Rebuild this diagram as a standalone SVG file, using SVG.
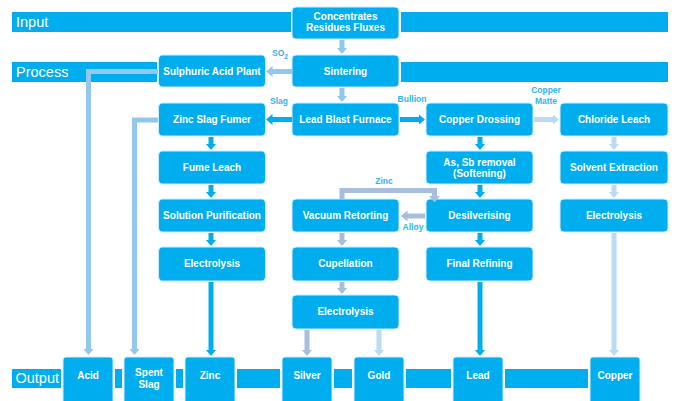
<svg xmlns="http://www.w3.org/2000/svg" width="676" height="401" viewBox="0 0 676 401">
<defs>
<style>
.band{fill:#00AEEF}
.bl{font-family:"Liberation Sans",Arial,sans-serif;font-size:14.5px;fill:#fff}
.node rect{fill:#00AEEF;stroke:#CDEFFC;stroke-width:1}
.node text{font-family:"Liberation Sans",Arial,sans-serif;font-size:10px;font-weight:bold;fill:#fff;text-anchor:middle}
.lbl{font-family:"Liberation Sans",Arial,sans-serif;font-size:8.5px;font-weight:bold;fill:#2FB4EE;text-anchor:middle}
.c{fill:none;stroke-width:5;stroke-linejoin:miter}
.dark{stroke:#00AEEF;marker-end:url(#ah-dark)}
.light{stroke:#92C8EE;marker-end:url(#ah-light)}
.pale{stroke:#B9DBF5;marker-end:url(#ah-pale)}
.grey{stroke:#A7BEDC;marker-end:url(#ah-grey)}
</style>
<marker id="ah-dark" markerUnits="userSpaceOnUse" markerWidth="7" markerHeight="12" viewBox="0 0 7 12" refX="0.5" refY="6" orient="auto"><path d="M0,0.5 L6.5,6 L0,11.5 z" fill="#00AEEF"/></marker>
<marker id="ah-light" markerUnits="userSpaceOnUse" markerWidth="7" markerHeight="12" viewBox="0 0 7 12" refX="0.5" refY="6" orient="auto"><path d="M0,0.5 L6.5,6 L0,11.5 z" fill="#92C8EE"/></marker>
<marker id="ah-pale" markerUnits="userSpaceOnUse" markerWidth="7" markerHeight="12" viewBox="0 0 7 12" refX="0.5" refY="6" orient="auto"><path d="M0,0.5 L6.5,6 L0,11.5 z" fill="#B9DBF5"/></marker>
<marker id="ah-grey" markerUnits="userSpaceOnUse" markerWidth="7" markerHeight="12" viewBox="0 0 7 12" refX="0.5" refY="6" orient="auto"><path d="M0,0.5 L6.5,6 L0,11.5 z" fill="#A7BEDC"/></marker>
</defs>
<rect width="676" height="401" fill="#fff"/>

<g id="bands">
<rect class="band" x="12" y="12" width="279" height="20"/>
<rect class="band" x="401" y="12" width="267" height="20"/>
<rect class="band" x="12" y="62" width="145" height="20"/>
<rect class="band" x="401" y="62" width="267" height="20"/>
<rect class="band" x="12" y="369" width="49" height="19"/>
<rect class="band" x="115" y="369" width="7" height="19"/>
<rect class="band" x="176" y="369" width="7" height="19"/>
<rect class="band" x="237" y="369" width="43" height="19"/>
<rect class="band" x="334" y="369" width="18" height="19"/>
<rect class="band" x="406" y="369" width="45" height="19"/>
<rect class="band" x="505" y="369" width="83" height="19"/>
<text class="bl" x="16" y="26.5">Input</text>
<text class="bl" x="16" y="76.5">Process</text>
<text class="bl" x="15.5" y="383">Output</text>
</g>

<g id="concentrates" class="node"><rect x="292" y="7" width="107" height="32" rx="4"/><text x="345.5" y="20">Concentrates</text><text x="345.5" y="31">Residues Fluxes</text></g>
<g id="sintering" class="node"><rect x="292" y="55" width="107" height="32" rx="4"/><text x="345.5" y="74.5">Sintering</text></g>
<g id="sulphuric-acid-plant" class="node"><rect x="158.5" y="55" width="107" height="32" rx="4"/><text x="212" y="74.5">Sulphuric Acid Plant</text></g>
<g id="lead-blast-furnace" class="node"><rect x="292" y="103" width="107" height="33" rx="4"/><text x="345.5" y="122.5">Lead Blast Furnace</text></g>
<g id="zinc-slag-fumer" class="node"><rect x="158.5" y="103" width="107" height="33" rx="4"/><text x="212" y="122.5">Zinc Slag Fumer</text></g>
<g id="copper-drossing" class="node"><rect x="426" y="103" width="107" height="33" rx="4"/><text x="479.5" y="122.5">Copper Drossing</text></g>
<g id="chloride-leach" class="node"><rect x="560" y="103" width="108" height="33" rx="4"/><text x="614" y="122.5">Chloride Leach</text></g>
<g id="fume-leach" class="node"><rect x="158.5" y="151" width="107" height="33" rx="4"/><text x="212" y="170.5">Fume Leach</text></g>
<g id="softening" class="node"><rect x="426" y="151" width="107" height="33" rx="4"/><text x="479.5" y="165.5">As, Sb removal</text><text x="479.5" y="176.5">(Softening)</text></g>
<g id="solvent-extraction" class="node"><rect x="560" y="151" width="108" height="33" rx="4"/><text x="614" y="170.5">Solvent Extraction</text></g>
<g id="solution-purification" class="node"><rect x="158.5" y="199" width="107" height="33" rx="4"/><text x="212" y="218.5">Solution Purification</text></g>
<g id="vacuum-retorting" class="node"><rect x="292" y="199" width="107" height="33" rx="4"/><text x="345.5" y="218.5">Vacuum Retorting</text></g>
<g id="desilverising" class="node"><rect x="426" y="199" width="107" height="33" rx="4"/><text x="479.5" y="218.5">Desilverising</text></g>
<g id="electrolysis-cu" class="node"><rect x="560" y="199" width="108" height="33" rx="4"/><text x="614" y="218.5">Electrolysis</text></g>
<g id="electrolysis-zn" class="node"><rect x="158.5" y="247" width="107" height="34" rx="4"/><text x="212" y="267">Electrolysis</text></g>
<g id="cupellation" class="node"><rect x="292" y="247" width="107" height="34" rx="4"/><text x="345.5" y="267">Cupellation</text></g>
<g id="final-refining" class="node"><rect x="426" y="247" width="107" height="34" rx="4"/><text x="479.5" y="267">Final Refining</text></g>
<g id="electrolysis-ag" class="node"><rect x="292" y="295" width="107" height="34" rx="4"/><text x="345.5" y="315">Electrolysis</text></g>

<g id="out-acid" class="node"><rect x="63" y="357" width="50" height="50" rx="3"/><text x="88" y="379">Acid</text></g>
<g id="out-spent-slag" class="node"><rect x="124" y="357" width="50" height="50" rx="3"/><text x="149" y="376">Spent</text><text x="149" y="388">Slag</text></g>
<g id="out-zinc" class="node"><rect x="185" y="357" width="50" height="50" rx="3"/><text x="210" y="379">Zinc</text></g>
<g id="out-silver" class="node"><rect x="282" y="357" width="50" height="50" rx="3"/><text x="307" y="379">Silver</text></g>
<g id="out-gold" class="node"><rect x="354" y="357" width="50" height="50" rx="3"/><text x="379" y="379">Gold</text></g>
<g id="out-lead" class="node"><rect x="453" y="357" width="50" height="50" rx="3"/><text x="478" y="379">Lead</text></g>
<g id="out-copper" class="node"><rect x="590" y="357" width="50" height="50" rx="3"/><text x="615" y="379">Copper</text></g>

<g id="connectors">
<path class="c light" d="M342,40 V48"/>
<path class="c light" d="M342,88 V96"/>
<path class="c light" d="M292,71.5 H272"/>
<path class="c light" d="M158,71.5 H88.5 V349"/>
<path class="c light" d="M158,120 H134.5 V349"/>
<path class="c dark" d="M292,119.5 H272"/>
<path class="c dark" d="M400,119.5 H419"/>
<path class="c pale" d="M534,119.5 H553"/>
<path class="c dark" d="M211,137 V144"/>
<path class="c dark" d="M211,185 V192"/>
<path class="c dark" d="M211,233 V240"/>
<path class="c dark" d="M211,282 V350"/>
<path class="c dark" d="M480,137 V144"/>
<path class="c dark" d="M480,185 V192"/>
<path class="c dark" d="M480,233 V240"/>
<path class="c dark" d="M480,282 V350"/>
<path class="c pale" d="M614,137 V144"/>
<path class="c pale" d="M614,185 V192"/>
<path class="c pale" d="M614,233 V350"/>
<path class="c grey" d="M342,199 V190.5 H434.5 V196.5"/>
<path class="c grey" d="M425,216 H407"/>
<path class="c grey" d="M342,233 V240"/>
<path class="c grey" d="M342,282 V288"/>
<path class="c grey" d="M307,330 V350"/>
<path class="c pale" d="M379,330 V350"/>
<text class="lbl" x="272" y="56" style="text-anchor:start">SO<tspan font-size="6.5" dy="2.5">2</tspan></text>
<text class="lbl" x="279" y="104.4">Slag</text>
<text class="lbl" x="412" y="101.8">Bullion</text>
<text class="lbl" x="546" y="93">Copper</text>
<text class="lbl" x="546" y="104.4">Matte</text>
<text class="lbl" x="384" y="184.4">Zinc</text>
<text class="lbl" x="413" y="230.4">Alloy</text>
</g>
</svg>
